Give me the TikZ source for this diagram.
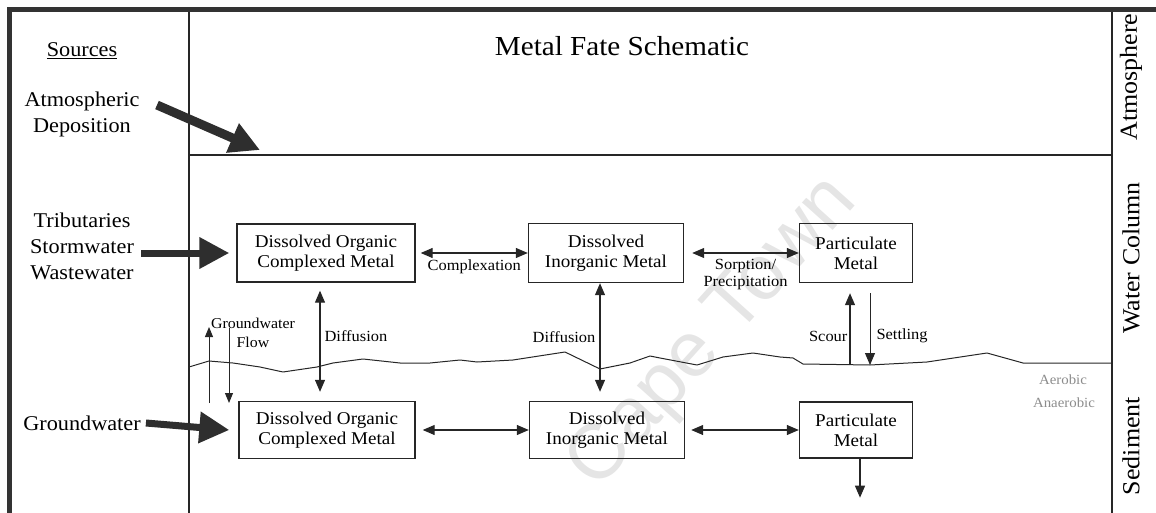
\documentclass[tikz,border=0pt]{standalone}
\usepackage{fontspec}
\setmainfont[FakeStretch=1.06]{Liberation Serif}
\newfontfamily\wmfont{Liberation Sans}
\usetikzlibrary{arrows.meta}

\begin{document}
\begin{tikzpicture}[x=1pt,y=-1pt,
  frame/.style={line width=1.1pt, draw=black!85},
  heavy/.style={line width=5pt, draw=black!80},
  box/.style={draw=black!85, line width=1.4pt, align=center, inner sep=0pt,
              font=\fontsize{18}{20}\selectfont},
  lbl/.style={font=\fontsize{15.5}{17}\selectfont, align=center, inner sep=1pt},
  src/.style={font=\fontsize{21}{26}\selectfont, align=center, inner sep=1pt},
  zone/.style={font=\fontsize{24.5}{28}\selectfont, rotate=90, inner sep=0pt},
  fat/.style={line width=8pt, draw=black!82,
              -{Triangle[length=30pt,width=30pt,fill=black!82]}},
  dbl/.style={line width=1.2pt, draw=black!85,
              {Triangle[length=12pt,width=10pt]}-{Triangle[length=12pt,width=10pt]}},
  one/.style={line width=1.2pt, draw=black!85, -{Triangle[length=12pt,width=10pt]}},
  thinone/.style={line width=1pt, draw=black!85, -{Triangle[length=10pt,width=8pt]}},
  faint/.style={font=\fontsize{14}{16}\selectfont, text=black!45, inner sep=0pt}
]
\useasboundingbox (0,0) rectangle (1156,513);

% watermark
\node[font=\wmfont\fontsize{78}{78}\selectfont, text=black!10, rotate=48]
  (wm) at (714,334) {Cape Town};

% outer frame and zone dividers
\draw[heavy] (9.5,513) -- (9.5,9.5) -- (1156,9.5);
\draw[frame] (189,12) -- (189,513);
\draw[frame] (1112,12) -- (1112,513);
\draw[frame] (189,155) -- (1112,155);

% sediment-water interface
\draw[line width=1pt, draw=black!85, line join=round]
  (189,367) -- (209,361) -- (233,363) -- (260,367) -- (283,372) -- (317,367)
  -- (333,363) -- (363,359) -- (400,363) -- (430,363) -- (460,360) -- (477,362)
  -- (513,360) -- (565,352) -- (600,369) -- (630,363) -- (650,356) -- (660,358)
  -- (697,365) -- (723,357) -- (753,353) -- (780,357) -- (793,358) -- (803,364)
  -- (870,365) -- (927,362) -- (987,353) -- (1023,363) -- (1093,363) -- (1112,363);

% headings
\node[font=\fontsize{27.5}{30}\selectfont] (title) at (622,46) {Metal Fate Schematic};
\node[src] (sources) at (82,51) {\underline{Sources}};
\node[zone] (atm) at (1131,77) {Atmosphere};
\node[zone] (wcol) at (1131,258) {Water Column};
\node[zone] (sed) at (1131,446) {Sediment};
\node[faint] (aer) at (1063,380) {Aerobic};
\node[faint] (anaer) at (1064,403) {Anaerobic};

% source labels
\node[src] (atmdep) at (82,114) {Atmospheric\\Deposition};
\node[src] (trib) at (82,246) {Tributaries\\Stormwater\\Wastewater};
\node[src] (gw) at (82,423) {Groundwater};
\coordinate (atmstart) at (157,105);
\coordinate (atmend) at (260,150);

% compartments
\node[box, minimum width=178pt, minimum height=58pt] (doc) at (326,253)
  {Dissolved Organic\\Complexed Metal};
\node[box, minimum width=155pt, minimum height=59pt] (dim) at (606,253)
  {Dissolved\\Inorganic Metal};
\node[box, minimum width=113pt, minimum height=59pt] (pm) at (856,253)
  {Particulate\\Metal};
\node[box, minimum width=176pt, minimum height=57pt] (sdoc) at (327,430)
  {Dissolved Organic\\Complexed Metal};
\node[box, minimum width=155pt, minimum height=57pt] (sdim) at (607,430)
  {Dissolved\\Inorganic Metal};
\node[box, minimum width=113pt, minimum height=56pt] (spm) at (856,430)
  {Particulate\\Metal};

% external inputs
\draw[fat, line width=9pt] (atmstart) -- (atmend);
\draw[fat, line width=7pt] ([xshift=6pt]trib.east |- doc.west) -- ([xshift=-7pt]doc.west);
\draw[fat, line width=7pt] ([xshift=4pt]gw.east) -- ([xshift=-9pt]sdoc.west);

% water column exchanges
\draw[dbl] ([xshift=5pt]doc.east) -- (dim.west)
  node[lbl, midway, below=5pt] (cplx) {Complexation};
\draw[dbl] ([xshift=8pt]dim.east) -- (pm.west)
  node[lbl, midway, below=5pt] (sorp) {Sorption/\\Precipitation};

% sediment exchanges
\draw[dbl] ([xshift=7pt]sdoc.east) -- (sdim.west);
\draw[dbl] ([xshift=6pt]sdim.east) -- (spm.west);

% diffusion across the interface
\draw[dbl] ([xshift=-6pt,yshift=-8pt]doc.south) -- ([xshift=-7pt,yshift=9pt]sdoc.north)
  node[lbl, pos=0.45, right=3pt] (diff1) {Diffusion};
\draw[dbl] ([xshift=-6pt]dim.south) -- ([xshift=-7pt,yshift=9pt]sdim.north)
  node[lbl, pos=0.5, left=3pt] (diff2) {Diffusion};

% scour and settling
\coordinate (scourbase) at (850,365);
\coordinate (settlebase) at (870,365);
\draw[one] (scourbase) -- ([xshift=-6pt,yshift=-10pt]pm.south)
  node[lbl, pos=0.4, left=1pt] (scour) {Scour};
\draw[one, line width=1pt] ([xshift=14pt,yshift=-10pt]pm.south) -- (settlebase)
  node[lbl, pos=0.6, right=5pt] (settle) {Settling};

% groundwater flow
\coordinate (gwup0) at (209,403);
\coordinate (gwup1) at (209,327);
\coordinate (gwdn0) at (229,328);
\coordinate (gwdn1) at (229,403);
\draw[thinone] (gwup0) -- (gwup1);
\draw[thinone] (gwdn0) -- (gwdn1);
\node[lbl, font=\fontsize{15}{19}\selectfont] (gwflow) at (253,333) {Groundwater\\Flow};

% burial
\draw[one] ([xshift=4pt]spm.south) -- ++(0,39) coordinate (burial);
\end{tikzpicture}
\end{document}
